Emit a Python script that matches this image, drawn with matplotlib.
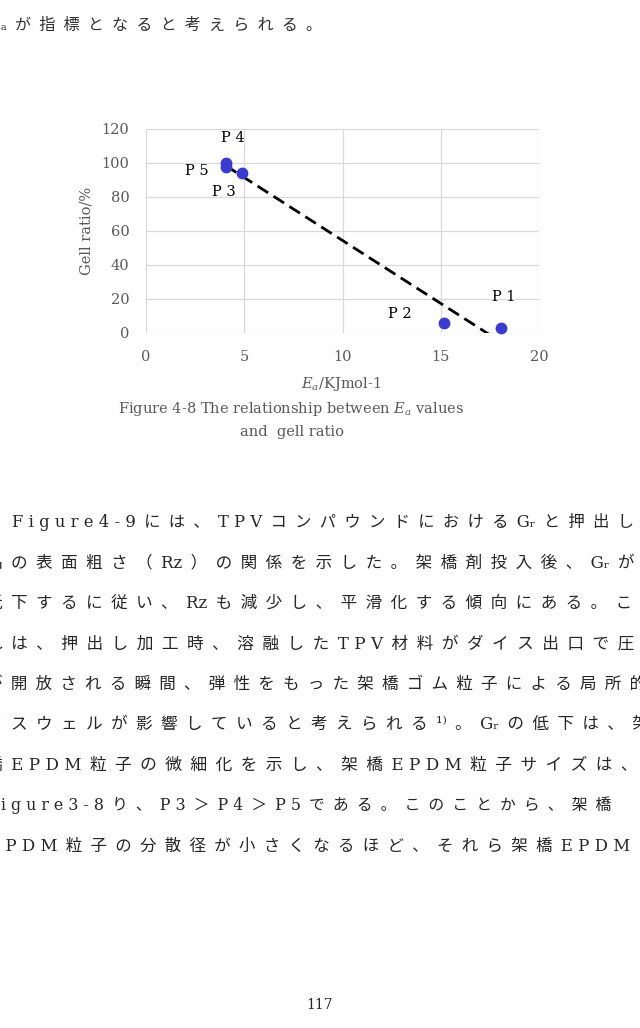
import matplotlib
matplotlib.use('Agg')
import matplotlib.pyplot as plt
import numpy as np

# data
names = ['P 1', 'P 2', 'P 3', 'P 4', 'P 5']
ea = np.array([18.05, 15.17, 4.87, 4.06, 4.06])
gell = np.array([2.7, 6.1, 93.9, 100.0, 97.5])
# label offsets in pixels from each point
lab_dx = [3, -44, -18, 7, -29]
lab_dy = [31, 9, -19, 25, -4]

x_ticks = [0, 5, 10, 15, 20]
y_ticks = [0, 20, 40, 60, 80, 100, 120]

top_line = 'Eₐ が 指 標 と な る と 考 え ら れ る 。'
body_lines = [
    'F i g u r e 4 - 9 に は 、 T P V コ ン パ ウ ン ド に お け る Gᵣ と 押 出 し',
    '品 の 表 面 粗 さ （ Rz ） の 関 係 を 示 し た 。 架 橋 剤 投 入 後 、 Gᵣ が',
    '低 下 す る に 従 い 、 Rz も 減 少 し 、 平 滑 化 す る 傾 向 に あ る 。 こ',
    'れ は 、 押 出 し 加 工 時 、 溶 融 し た T P V 材 料 が ダ イ ス 出 口 で 圧',
    'が 開 放 さ れ る 瞬 間 、 弾 性 を も っ た 架 橋 ゴ ム 粒 子 に よ る 局 所 的',
    'イ ス ウ ェ ル が 影 響 し て い る と 考 え ら れ る ¹⁾ 。 Gᵣ の 低 下 は 、 架',
    '橋 E P D M 粒 子 の 微 細 化 を 示 し 、 架 橋 E P D M 粒 子 サ イ ズ は 、',
    'F i g u r e 3 - 8 り 、 P 3 ＞ P 4 ＞ P 5 で あ る 。 こ の こ と か ら 、 架 橋',
    'E P D M 粒 子 の 分 散 径 が 小 さ く な る ほ ど 、 そ れ ら 架 橋 E P D M',
]
# left / right edge of each text line (pixels)
line_x0 = [12, -14, -14, -14, -14, -14, -14, -15, -12]
line_x1 = [633, 634, 632, 634, 650, 650, 640, 613, 630]
page_no = '117'

W, H = 640, 1028
fam = ['DejaVu Serif', 'Noto Sans CJK JP', 'DejaVu Sans']
gray = '#595959'
base_fs = 11.6

plt.rcParams['mathtext.fontset'] = 'dejavuserif'


def spaced(line):
    toks = line.split(' ')
    out = toks[0]
    for a, b in zip(toks[:-1], toks[1:]):
        if a.isascii() and b.isascii() and len(a) == 1 and len(b) == 1:
            out += ' ' + b
        else:
            out += '\u2002' + b
    return out


def fy(y):
    return 1 - y / H


fig = plt.figure(figsize=(W / 100, H / 100), dpi=100)
fig.patch.set_facecolor('white')

# chart
ax = fig.add_axes([146 / W, fy(333), 393 / W, 204 / H])
ax.set_xlim(0, 20)
ax.set_ylim(0, 120)
ax.set_xticks(x_ticks)
ax.set_yticks(y_ticks)
ax.grid(True, color='#d9d9d9', lw=0.9)
ax.set_axisbelow(True)
for s in ax.spines.values():
    s.set_visible(False)
ax.tick_params(length=0, colors=gray, labelsize=10.5)
ax.tick_params(axis='x', pad=12)
ax.tick_params(axis='y', pad=12)
for t in ax.get_xticklabels() + ax.get_yticklabels():
    t.set_family('DejaVu Serif')

coef = np.polyfit(ea, gell, 1)
xs = np.array([ea.min(), ea.max()])
ax.plot(xs, np.polyval(coef, xs), color='black', lw=2, ls=(0, (4.5, 2.3)), zorder=2)
ax.plot(ea, gell, 'o', color='#3b3bd0', ms=7.5, zorder=3, clip_on=False)
for n, x, y, dx, dy in zip(names, ea, gell, lab_dx, lab_dy):
    ax.annotate(n, (x, y), xytext=(dx, dy), textcoords='offset pixels',
                ha='center', va='center', fontsize=10.5, family='DejaVu Serif',
                color='black')

ax.set_ylabel('Gell ratio/%', family='DejaVu Serif', fontsize=10.5, color=gray, labelpad=6)
fig.text(341 / W, fy(384), r'$E_a$/KJmol-1', ha='center', va='center',
         family='DejaVu Serif', fontsize=10.5, color=gray)
fig.text(291 / W, fy(409), r'Figure 4-8 The relationship between $E_a$ values',
         ha='center', va='center', family='DejaVu Serif', fontsize=10.5, color=gray)
fig.text(292 / W, fy(432), 'and  gell ratio', ha='center', va='center',
         family='DejaVu Serif', fontsize=10.5, color=gray)

# page text, each line sized to fill its width like the justified original
renderer = fig.canvas.get_renderer()


def put_line(s, x0, x1, y, color):
    t = fig.text(x0 / W, fy(y), spaced(s), ha='left', va='center',
                 family=fam, fontsize=base_fs, color=color)
    w = t.get_window_extent(renderer).width
    k = min(max((x1 - x0) / w, 0.88), 1.12)
    t.set_fontsize(base_fs * k)
    return t


put_line(top_line, -11, 322, 25, '#333333')
for i, (ln, x0, x1) in enumerate(zip(body_lines, line_x0, line_x1)):
    put_line(ln, x0, x1, 522 + 40.5 * i, '#262626')
fig.text(320 / W, fy(1005), page_no, ha='center', va='center',
         family='DejaVu Serif', fontsize=10, color='#262626')

fig.savefig('out.png', dpi=100)
